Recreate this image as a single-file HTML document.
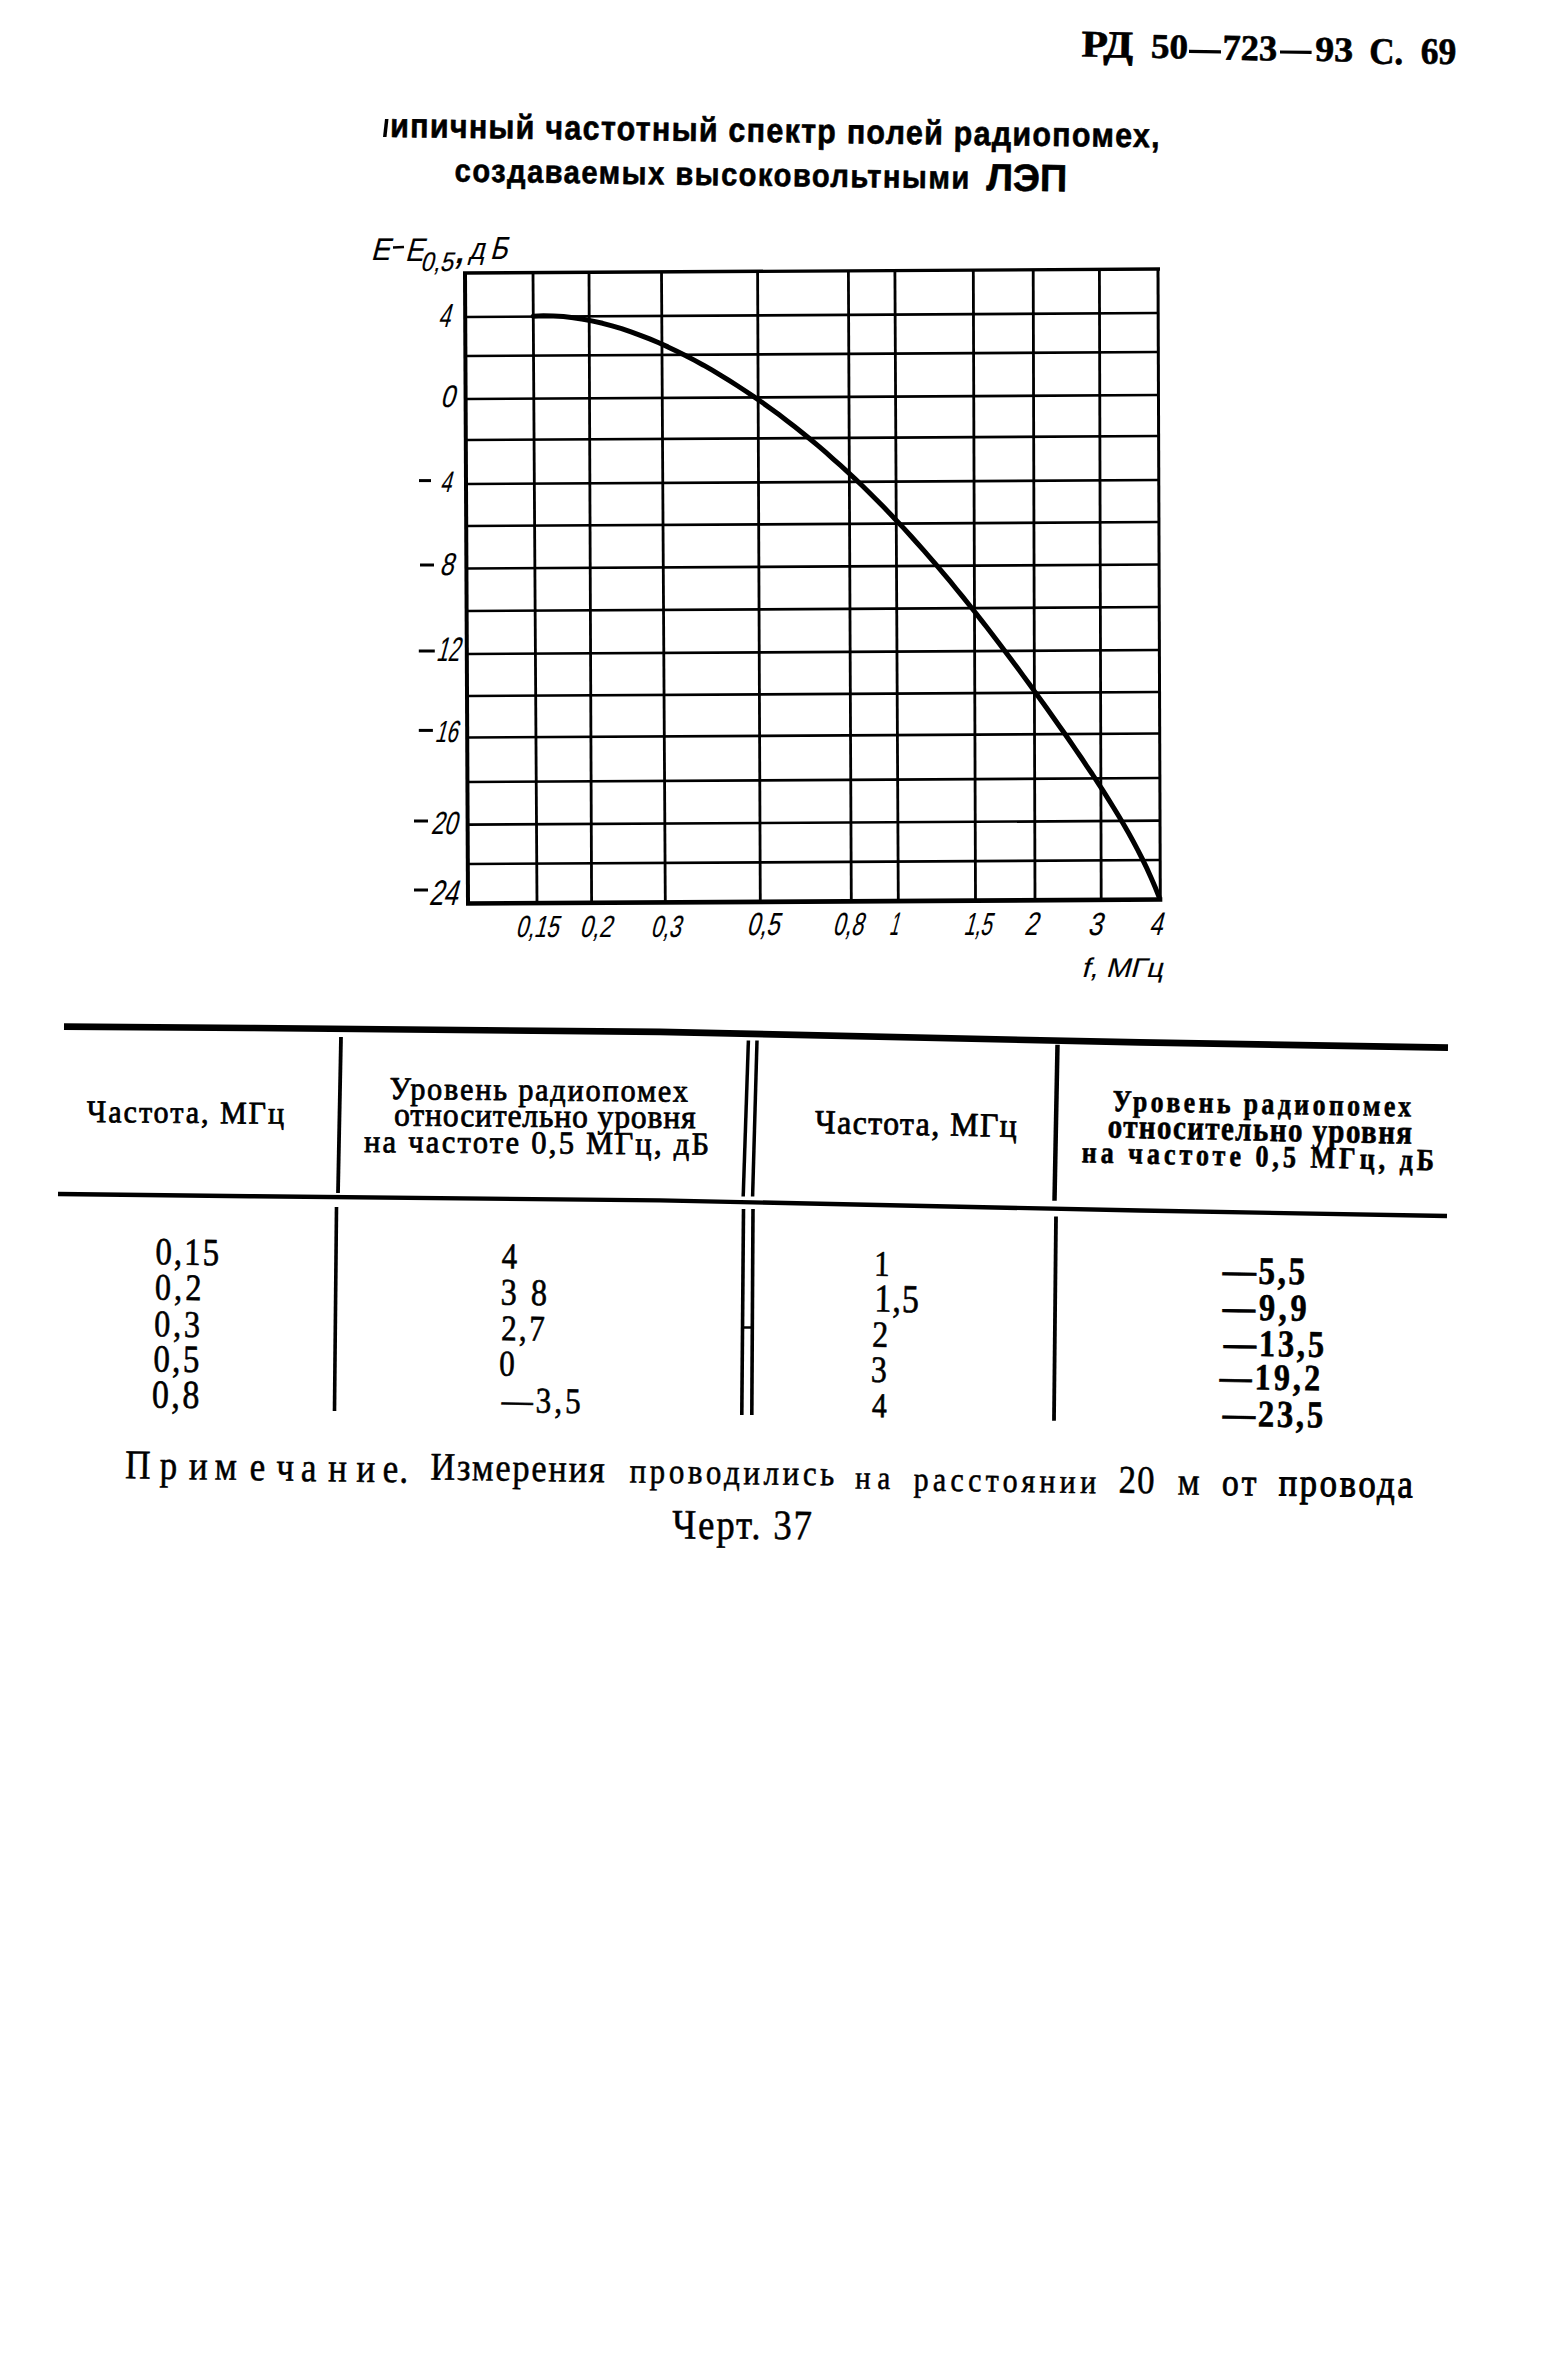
<!DOCTYPE html>
<html><head><meta charset="utf-8"><style>
html,body{margin:0;padding:0;background:#fff;width:1566px;height:2380px;overflow:hidden}
svg{display:block}
</style></head><body>
<svg width="1566" height="2380" viewBox="0 0 1566 2380"><g stroke="#000" stroke-linecap="butt" fill="none"><line x1="463.0" y1="273.0" x2="1160.0" y2="269.0" stroke-width="3.3"/><line x1="465.2" y1="317.0" x2="1158.1" y2="313.0" stroke-width="2.7"/><line x1="465.4" y1="356.0" x2="1158.3" y2="352.0" stroke-width="2.7"/><line x1="465.6" y1="399.0" x2="1158.4" y2="395.0" stroke-width="2.7"/><line x1="465.8" y1="440.0" x2="1158.6" y2="436.0" stroke-width="2.7"/><line x1="466.0" y1="484.0" x2="1158.8" y2="480.0" stroke-width="2.7"/><line x1="466.2" y1="526.0" x2="1158.9" y2="522.0" stroke-width="2.7"/><line x1="466.4" y1="568.5" x2="1159.1" y2="564.5" stroke-width="2.7"/><line x1="466.6" y1="611.0" x2="1159.2" y2="607.0" stroke-width="2.7"/><line x1="466.8" y1="654.0" x2="1159.4" y2="650.0" stroke-width="2.7"/><line x1="467.0" y1="696.0" x2="1159.5" y2="692.0" stroke-width="2.7"/><line x1="467.2" y1="737.5" x2="1159.7" y2="733.5" stroke-width="2.7"/><line x1="467.4" y1="782.0" x2="1159.8" y2="778.0" stroke-width="2.7"/><line x1="467.6" y1="824.7" x2="1160.0" y2="820.7" stroke-width="2.7"/><line x1="467.8" y1="864.0" x2="1160.1" y2="860.0" stroke-width="2.7"/><line x1="466.0" y1="903.5" x2="1162.3" y2="899.5" stroke-width="4.7"/><line x1="465.0" y1="273.0" x2="468.0" y2="903.5" stroke-width="4.0"/><line x1="533.0" y1="272.6" x2="537.0" y2="903.1" stroke-width="2.8"/><line x1="589.0" y1="272.3" x2="591.6" y2="902.8" stroke-width="2.8"/><line x1="661.5" y1="271.9" x2="665.3" y2="902.3" stroke-width="2.8"/><line x1="757.6" y1="271.3" x2="760.3" y2="901.8" stroke-width="2.8"/><line x1="848.4" y1="270.8" x2="851.3" y2="901.3" stroke-width="2.8"/><line x1="894.9" y1="270.5" x2="898.3" y2="901.0" stroke-width="2.8"/><line x1="973.3" y1="270.1" x2="975.5" y2="900.5" stroke-width="2.8"/><line x1="1033.2" y1="269.7" x2="1035.0" y2="900.2" stroke-width="2.8"/><line x1="1099.4" y1="269.3" x2="1101.2" y2="899.8" stroke-width="2.8"/><line x1="1158.0" y1="269.0" x2="1160.3" y2="899.5" stroke-width="3.0"/></g><polyline points="533.2,316.2 543.4,315.8 553.4,316.0 563.4,316.6 573.3,317.7 583.2,319.2 592.9,321.1 602.6,323.3 612.1,325.9 621.6,328.7 631.0,331.9 640.4,335.3 649.6,338.9 658.8,342.8 667.9,346.9 676.9,351.2 685.9,355.7 694.7,360.4 703.5,365.2 712.2,370.2 720.8,375.3 729.4,380.6 737.8,386.0 746.2,391.5 754.5,397.1 762.7,402.8 770.9,408.7 778.9,414.6 786.9,420.7 794.8,426.8 802.6,433.0 810.3,439.3 818.0,445.7 825.6,452.2 833.0,458.8 840.5,465.4 847.8,472.1 855.1,478.9 862.3,485.8 869.4,492.7 876.4,499.7 883.4,506.8 890.3,514.0 897.1,521.2 903.9,528.4 910.6,535.8 917.3,543.2 923.9,550.6 930.4,558.1 936.9,565.7 943.4,573.3 949.8,580.9 956.1,588.7 962.4,596.4 968.7,604.2 974.9,612.0 981.0,619.9 987.2,627.8 993.3,635.8 999.4,643.7 1005.4,651.7 1011.4,659.7 1017.4,667.8 1023.3,675.9 1029.3,684.0 1035.1,692.1 1041.0,700.2 1046.8,708.3 1052.6,716.5 1058.4,724.7 1064.1,732.8 1069.8,741.0 1075.5,749.3 1081.1,757.5 1086.6,765.8 1092.2,774.0 1097.6,782.3 1103.0,790.7 1108.3,799.1 1113.5,807.5 1118.7,816.0 1123.7,824.5 1128.6,833.1 1133.4,841.8 1138.1,850.6 1142.6,859.5 1147.0,868.6 1151.1,877.7 1155.1,887.1 1158.9,896.6" stroke="#000" stroke-width="5" fill="none" stroke-linecap="round" stroke-linejoin="round"/><g stroke="#000" stroke-linecap="butt" fill="none"><polyline points="64,1026.6 250,1028 660,1031.9 1140,1042.4 1448,1047.6" stroke-width="6.6" stroke-linejoin="round"/><polyline points="58,1194 250,1196.2 660,1200.4 1140,1210.5 1447,1216" stroke-width="4.4" stroke-linejoin="round"/><line x1="743" y1="1327.5" x2="753" y2="1327.5" stroke-width="2.5"/><line x1="341" y1="1037" x2="338" y2="1193" stroke-width="3.8"/><line x1="336.5" y1="1207" x2="334.5" y2="1411" stroke-width="3.6"/><line x1="748.4" y1="1040.5" x2="743.2" y2="1196.5" stroke-width="3.5"/><line x1="757" y1="1040.5" x2="752.6" y2="1196.5" stroke-width="3.5"/><line x1="743.5" y1="1209" x2="741.8" y2="1415" stroke-width="3.6"/><line x1="753" y1="1209" x2="751.8" y2="1415" stroke-width="3.6"/><line x1="1057.5" y1="1044.8" x2="1054.5" y2="1200.7" stroke-width="4.5"/><line x1="1056" y1="1216.4" x2="1054" y2="1420.7" stroke-width="3.8"/></g><g stroke="#000" stroke-width="3" stroke-linecap="butt"><line x1="419" y1="480.6" x2="431" y2="480.6"/><line x1="420" y1="565" x2="434" y2="565"/><line x1="418.8" y1="651" x2="434.8" y2="651"/><line x1="418.8" y1="730.4" x2="432.9" y2="730.4"/><line x1="414" y1="821" x2="428" y2="821"/><line x1="414" y1="890" x2="428" y2="890"/><line x1="393" y1="247.5" x2="404" y2="247" stroke-width="2.6"/></g><g stroke="#000" stroke-width="3.2"><line x1="1189" y1="51.3" x2="1221" y2="51.9"/><line x1="1280" y1="52.0" x2="1311.6" y2="52.4"/></g><path d="M385,119 L388.5,119 L386.5,137 L383,137 Z" fill="#000"/><g fill="#000"><text transform="translate(1081.32,56.50) rotate(1.15) scale(1.1478,1)" font-family="Liberation Serif" font-style="normal" font-weight="bold" font-size="37.79" stroke="#000" stroke-width="0.60" stroke-linejoin="round">РД</text><text transform="translate(1150.64,57.86) rotate(1.15) scale(1.0689,1)" font-family="Liberation Serif" font-style="normal" font-weight="bold" font-size="34.83" stroke="#000" stroke-width="0.60" stroke-linejoin="round">50</text><text transform="translate(1222.29,59.60) rotate(1.15) scale(1.0045,1)" font-family="Liberation Serif" font-style="normal" font-weight="bold" font-size="36.27" stroke="#000" stroke-width="0.60" stroke-linejoin="round">723</text><text transform="translate(1315.01,60.85) rotate(1.15) scale(1.0835,1)" font-family="Liberation Serif" font-style="normal" font-weight="bold" font-size="35.05" stroke="#000" stroke-width="0.60" stroke-linejoin="round">93</text><text transform="translate(1368.95,63.42) rotate(1.15) scale(0.9432,1)" font-family="Liberation Serif" font-style="normal" font-weight="bold" font-size="37.24" stroke="#000" stroke-width="0.60" stroke-linejoin="round">С.</text><text transform="translate(1420.38,63.42) rotate(1.15) scale(0.9596,1)" font-family="Liberation Serif" font-style="normal" font-weight="bold" font-size="37.24" stroke="#000" stroke-width="0.60" stroke-linejoin="round">69</text><text transform="translate(390.09,137.00) rotate(0.78) scale(0.9000,1)" font-family="Liberation Sans" font-style="normal" font-weight="bold" font-size="33.88" letter-spacing="1.39" stroke="#000" stroke-width="0.60" stroke-linejoin="round">ипичный частотный спектр полей радиопомех,</text><text transform="translate(454.49,181.60) rotate(0.8) scale(0.9000,1)" font-family="Liberation Sans" font-style="normal" font-weight="bold" font-size="32.38" letter-spacing="1.63" stroke="#000" stroke-width="0.60" stroke-linejoin="round">создаваемых высоковольтными</text><text transform="translate(986.20,190.30) rotate(0.8) scale(1.0000,1)" font-family="Liberation Sans" font-style="normal" font-weight="bold" font-size="37.97" letter-spacing="-0.04" stroke="#000" stroke-width="0.60" stroke-linejoin="round">ЛЭП</text><text transform="translate(437.67,326.50) skewX(-15.0) scale(0.6375,1)" font-family="Liberation Sans" font-style="normal" font-weight="normal" font-size="33.42" stroke="#000" stroke-width="0.15" stroke-linejoin="round">4</text><text transform="translate(439.90,406.62) skewX(-15.0) scale(0.8240,1)" font-family="Liberation Sans" font-style="normal" font-weight="normal" font-size="31.03" stroke="#000" stroke-width="0.15" stroke-linejoin="round">0</text><text transform="translate(439.69,491.80) skewX(-15.0) scale(0.6722,1)" font-family="Liberation Sans" font-style="normal" font-weight="normal" font-size="29.58" stroke="#000" stroke-width="0.15" stroke-linejoin="round">4</text><text transform="translate(439.22,575.11) skewX(-15.0) scale(0.7894,1)" font-family="Liberation Sans" font-style="normal" font-weight="normal" font-size="31.44" stroke="#000" stroke-width="0.15" stroke-linejoin="round">8</text><text transform="translate(435.70,661.00) skewX(-15.0) scale(0.6115,1)" font-family="Liberation Sans" font-style="normal" font-weight="normal" font-size="34.13" stroke="#000" stroke-width="0.15" stroke-linejoin="round">12</text><text transform="translate(434.54,742.42) skewX(-15.0) scale(0.6601,1)" font-family="Liberation Sans" font-style="normal" font-weight="normal" font-size="30.61" stroke="#000" stroke-width="0.15" stroke-linejoin="round">16</text><text transform="translate(430.51,834.10) skewX(-15.0) scale(0.7298,1)" font-family="Liberation Sans" font-style="normal" font-weight="normal" font-size="32.00" stroke="#000" stroke-width="0.15" stroke-linejoin="round">20</text><text transform="translate(428.49,904.50) skewX(-15.0) scale(0.7261,1)" font-family="Liberation Sans" font-style="normal" font-weight="normal" font-size="35.41" stroke="#000" stroke-width="0.15" stroke-linejoin="round">24</text><text transform="translate(515.32,936.52) skewX(-15.0) scale(0.7127,1)" font-family="Liberation Sans" font-style="normal" font-weight="normal" font-size="30.61" stroke="#000" stroke-width="0.15" stroke-linejoin="round">0,15</text><text transform="translate(579.28,936.52) skewX(-15.0) scale(0.7502,1)" font-family="Liberation Sans" font-style="normal" font-weight="normal" font-size="30.61" stroke="#000" stroke-width="0.15" stroke-linejoin="round">0,2</text><text transform="translate(650.33,936.52) skewX(-15.0) scale(0.7047,1)" font-family="Liberation Sans" font-style="normal" font-weight="normal" font-size="30.61" stroke="#000" stroke-width="0.15" stroke-linejoin="round">0,3</text><text transform="translate(746.27,934.50) skewX(-15.0) scale(0.7342,1)" font-family="Liberation Sans" font-style="normal" font-weight="normal" font-size="32.00" stroke="#000" stroke-width="0.15" stroke-linejoin="round">0,5</text><text transform="translate(832.32,934.50) skewX(-15.0) scale(0.6782,1)" font-family="Liberation Sans" font-style="normal" font-weight="normal" font-size="32.00" stroke="#000" stroke-width="0.15" stroke-linejoin="round">0,8</text><text transform="translate(888.68,935.00) skewX(-15.0) scale(0.5004,1)" font-family="Liberation Sans" font-style="normal" font-weight="normal" font-size="32.71" stroke="#000" stroke-width="0.15" stroke-linejoin="round">1</text><text transform="translate(963.15,934.50) skewX(-15.0) scale(0.6269,1)" font-family="Liberation Sans" font-style="normal" font-weight="normal" font-size="32.00" stroke="#000" stroke-width="0.15" stroke-linejoin="round">1,5</text><text transform="translate(1023.86,935.00) skewX(-15.0) scale(0.7443,1)" font-family="Liberation Sans" font-style="normal" font-weight="normal" font-size="32.71" stroke="#000" stroke-width="0.15" stroke-linejoin="round">2</text><text transform="translate(1087.18,934.50) skewX(-15.0) scale(0.8175,1)" font-family="Liberation Sans" font-style="normal" font-weight="normal" font-size="32.00" stroke="#000" stroke-width="0.15" stroke-linejoin="round">3</text><text transform="translate(1148.63,935.00) skewX(-15.0) scale(0.7208,1)" font-family="Liberation Sans" font-style="normal" font-weight="normal" font-size="32.71" stroke="#000" stroke-width="0.15" stroke-linejoin="round">4</text><text transform="translate(1081.00,977.00) skewX(-15.0) scale(1.0850,1)" font-family="Liberation Sans" font-style="normal" font-weight="normal" font-size="27.02" stroke="#000" stroke-width="0.15" stroke-linejoin="round">f, МГц</text><text transform="translate(370.58,260.10) skewX(-15.0) scale(0.9126,1)" font-family="Liberation Sans" font-style="normal" font-weight="normal" font-size="31.15" stroke="#000" stroke-width="0.15" stroke-linejoin="round">E</text><text transform="translate(404.87,261.00) skewX(-15.0) scale(0.8315,1)" font-family="Liberation Sans" font-style="normal" font-weight="normal" font-size="32.71" stroke="#000" stroke-width="0.15" stroke-linejoin="round">E</text><text transform="translate(420.07,270.98) skewX(-15.0) scale(0.8655,1)" font-family="Liberation Sans" font-style="normal" font-weight="normal" font-size="26.99" stroke="#000" stroke-width="0.15" stroke-linejoin="round">0,5</text><text transform="translate(452.46,262.50) skewX(-15.0) scale(1.0126,1)" font-family="Liberation Sans" font-style="normal" font-weight="normal" font-size="44.80" stroke="#000" stroke-width="0.15" stroke-linejoin="round">,</text><text transform="translate(468.80,259.00) skewX(-15.0) scale(0.8710,1)" font-family="Liberation Sans" font-style="normal" font-weight="normal" font-size="30.12" stroke="#000" stroke-width="0.15" stroke-linejoin="round">д</text><text transform="translate(489.75,259.10) skewX(-15.0) scale(0.8207,1)" font-family="Liberation Sans" font-style="normal" font-weight="normal" font-size="32.00" stroke="#000" stroke-width="0.15" stroke-linejoin="round">Б</text><text transform="translate(86.80,1122.00) rotate(0.5) scale(0.9500,1)" font-family="Liberation Serif" font-style="normal" font-weight="normal" font-size="31.54" letter-spacing="2.12" stroke="#000" stroke-width="0.80" stroke-linejoin="round">Частота, МГц</text><text transform="translate(389.56,1099.10) rotate(0.5) scale(0.9500,1)" font-family="Liberation Serif" font-style="normal" font-weight="normal" font-size="31.79" letter-spacing="1.94" stroke="#000" stroke-width="0.80" stroke-linejoin="round">Уровень радиопомех</text><text transform="translate(394.01,1125.60) rotate(0.5) scale(0.9500,1)" font-family="Liberation Serif" font-style="normal" font-weight="normal" font-size="33.28" letter-spacing="0.91" stroke="#000" stroke-width="0.80" stroke-linejoin="round">относительно уровня</text><text transform="translate(363.92,1152.00) rotate(0.45) scale(0.9500,1)" font-family="Liberation Serif" font-style="normal" font-weight="normal" font-size="32.00" letter-spacing="2.45" stroke="#000" stroke-width="0.80" stroke-linejoin="round">на частоте 0,5 МГц, дБ</text><text transform="translate(814.80,1133.00) rotate(1.1) scale(0.9500,1)" font-family="Liberation Serif" font-style="normal" font-weight="normal" font-size="33.52" letter-spacing="1.50" stroke="#000" stroke-width="0.80" stroke-linejoin="round">Частота, МГц</text><text transform="translate(1112.59,1111.00) rotate(1.05) scale(0.8500,1)" font-family="Liberation Serif" font-style="normal" font-weight="bold" font-size="30.51" letter-spacing="3.94" stroke="#000" stroke-width="0.60" stroke-linejoin="round">Уровень радиопомех</text><text transform="translate(1107.39,1137.50) rotate(1.2) scale(0.8500,1)" font-family="Liberation Serif" font-style="normal" font-weight="bold" font-size="34.35" letter-spacing="1.57" stroke="#000" stroke-width="0.60" stroke-linejoin="round">относительно уровня</text><text transform="translate(1081.49,1162.20) rotate(1.35) scale(0.8500,1)" font-family="Liberation Serif" font-style="normal" font-weight="bold" font-size="30.72" letter-spacing="4.67" stroke="#000" stroke-width="0.60" stroke-linejoin="round">на частоте 0,5 МГц, дБ</text><text transform="translate(155.37,1264.20) rotate(0.87) scale(0.8600,1)" font-family="Liberation Serif" font-style="normal" font-weight="normal" font-size="38.40" letter-spacing="2.31" stroke="#000" stroke-width="0.60" stroke-linejoin="round">0,15</text><text transform="translate(154.70,1299.42) rotate(0.87) scale(0.8600,1)" font-family="Liberation Serif" font-style="normal" font-weight="normal" font-size="37.38" letter-spacing="3.74" stroke="#000" stroke-width="0.60" stroke-linejoin="round">0,2</text><text transform="translate(153.99,1336.21) rotate(0.87) scale(0.8600,1)" font-family="Liberation Serif" font-style="normal" font-weight="normal" font-size="37.53" letter-spacing="3.30" stroke="#000" stroke-width="0.60" stroke-linejoin="round">0,3</text><text transform="translate(153.17,1371.40) rotate(0.87) scale(0.8600,1)" font-family="Liberation Serif" font-style="normal" font-weight="normal" font-size="38.40" letter-spacing="2.84" stroke="#000" stroke-width="0.60" stroke-linejoin="round">0,5</text><text transform="translate(151.74,1407.38) rotate(0.87) scale(0.8600,1)" font-family="Liberation Serif" font-style="normal" font-weight="normal" font-size="39.56" letter-spacing="2.96" stroke="#000" stroke-width="0.60" stroke-linejoin="round">0,8</text><text transform="translate(501.51,1268.33) rotate(0.87) scale(0.8600,1)" font-family="Liberation Serif" font-style="normal" font-weight="normal" font-size="36.22" letter-spacing="3.14" stroke="#000" stroke-width="0.60" stroke-linejoin="round">4</text><text transform="translate(500.49,1304.61) rotate(0.87) scale(0.8600,1)" font-family="Liberation Serif" font-style="normal" font-weight="normal" font-size="37.53" letter-spacing="3.59" stroke="#000" stroke-width="0.60" stroke-linejoin="round">3 8</text><text transform="translate(501.03,1340.13) rotate(0.87) scale(0.8600,1)" font-family="Liberation Serif" font-style="normal" font-weight="normal" font-size="36.22" letter-spacing="2.63" stroke="#000" stroke-width="0.60" stroke-linejoin="round">2,7</text><text transform="translate(499.02,1375.43) rotate(0.87) scale(0.8600,1)" font-family="Liberation Serif" font-style="normal" font-weight="normal" font-size="36.36" letter-spacing="4.32" stroke="#000" stroke-width="0.60" stroke-linejoin="round">0</text><text transform="translate(501.49,1411.93) rotate(0.87) scale(0.8600,1)" font-family="Liberation Serif" font-style="normal" font-weight="normal" font-size="36.22" letter-spacing="3.49" stroke="#000" stroke-width="0.60" stroke-linejoin="round">—3,5</text><text transform="translate(873.88,1275.74) rotate(0.87) scale(0.8600,1)" font-family="Liberation Serif" font-style="normal" font-weight="normal" font-size="36.07" letter-spacing="-2.25" stroke="#000" stroke-width="0.60" stroke-linejoin="round">1</text><text transform="translate(874.34,1311.58) rotate(0.87) scale(0.8600,1)" font-family="Liberation Serif" font-style="normal" font-weight="normal" font-size="39.56" letter-spacing="1.16" stroke="#000" stroke-width="0.60" stroke-linejoin="round">1,5</text><text transform="translate(872.00,1346.72) rotate(0.87) scale(0.8600,1)" font-family="Liberation Serif" font-style="normal" font-weight="normal" font-size="37.24" letter-spacing="4.06" stroke="#000" stroke-width="0.60" stroke-linejoin="round">2</text><text transform="translate(870.80,1381.82) rotate(0.87) scale(0.8600,1)" font-family="Liberation Serif" font-style="normal" font-weight="normal" font-size="37.09" letter-spacing="3.77" stroke="#000" stroke-width="0.60" stroke-linejoin="round">3</text><text transform="translate(871.83,1416.96) rotate(0.87) scale(0.8600,1)" font-family="Liberation Serif" font-style="normal" font-weight="normal" font-size="34.76" letter-spacing="3.12" stroke="#000" stroke-width="0.60" stroke-linejoin="round">4</text><text transform="translate(1222.52,1283.09) rotate(0.87) scale(0.8600,1)" font-family="Liberation Serif" font-style="normal" font-weight="bold" font-size="38.84" letter-spacing="2.86" stroke="#000" stroke-width="0.60" stroke-linejoin="round">—5,5</text><text transform="translate(1222.51,1319.41) rotate(0.87) scale(0.8600,1)" font-family="Liberation Serif" font-style="normal" font-weight="bold" font-size="37.82" letter-spacing="4.24" stroke="#000" stroke-width="0.60" stroke-linejoin="round">—9,9</text><text transform="translate(1223.51,1355.41) rotate(0.87) scale(0.8600,1)" font-family="Liberation Serif" font-style="normal" font-weight="bold" font-size="37.82" letter-spacing="3.22" stroke="#000" stroke-width="0.60" stroke-linejoin="round">—13,5</text><text transform="translate(1219.50,1389.02) rotate(0.87) scale(0.8600,1)" font-family="Liberation Serif" font-style="normal" font-weight="bold" font-size="37.24" letter-spacing="3.62" stroke="#000" stroke-width="0.60" stroke-linejoin="round">—19,2</text><text transform="translate(1222.51,1425.91) rotate(0.87) scale(0.8600,1)" font-family="Liberation Serif" font-style="normal" font-weight="bold" font-size="37.96" letter-spacing="3.12" stroke="#000" stroke-width="0.60" stroke-linejoin="round">—23,5</text><text transform="translate(430.16,1479.60) rotate(0.85) scale(0.8800,1)" font-family="Liberation Serif" font-style="normal" font-weight="normal" font-size="39.01" letter-spacing="2.08" stroke="#000" stroke-width="0.55" stroke-linejoin="round">Измерения</text><text transform="translate(629.42,1482.50) rotate(0.85) scale(0.8800,1)" font-family="Liberation Serif" font-style="normal" font-weight="normal" font-size="35.20" letter-spacing="4.09" stroke="#000" stroke-width="0.55" stroke-linejoin="round">проводились</text><text transform="translate(854.95,1488.40) rotate(0.85) scale(0.8800,1)" font-family="Liberation Serif" font-style="normal" font-weight="normal" font-size="32.85" letter-spacing="7.65" stroke="#000" stroke-width="0.55" stroke-linejoin="round">на</text><text transform="translate(913.53,1490.50) rotate(0.85) scale(0.8800,1)" font-family="Liberation Serif" font-style="normal" font-weight="normal" font-size="34.13" letter-spacing="4.84" stroke="#000" stroke-width="0.55" stroke-linejoin="round">расстоянии</text><text transform="translate(1118.42,1492.78) rotate(0.85) scale(0.8800,1)" font-family="Liberation Serif" font-style="normal" font-weight="normal" font-size="39.42" letter-spacing="1.34" stroke="#000" stroke-width="0.55" stroke-linejoin="round">20</text><text transform="translate(1177.46,1494.50) rotate(0.85) scale(0.8800,1)" font-family="Liberation Serif" font-style="normal" font-weight="normal" font-size="39.47" letter-spacing="0.20" stroke="#000" stroke-width="0.55" stroke-linejoin="round">м</text><text transform="translate(1221.64,1495.00) rotate(0.85) scale(0.8800,1)" font-family="Liberation Serif" font-style="normal" font-weight="normal" font-size="38.40" letter-spacing="3.89" stroke="#000" stroke-width="0.80" stroke-linejoin="round">от</text><text transform="translate(1278.46,1495.50) rotate(0.85) scale(0.8800,1)" font-family="Liberation Serif" font-style="normal" font-weight="normal" font-size="39.47" letter-spacing="2.92" stroke="#000" stroke-width="1.00" stroke-linejoin="round">провода</text><text transform="translate(672.30,1538.50) rotate(0.3) scale(0.8800,1)" font-family="Liberation Serif" font-style="normal" font-weight="normal" font-size="41.90" letter-spacing="2.07" stroke="#000" stroke-width="0.55" stroke-linejoin="round">Черт. 37</text><text transform="translate(124.95,1478.30) rotate(0.85) scale(0.86,1)" font-family="Liberation Serif" font-size="40.84" stroke="#000" stroke-width="0.55">П</text><text transform="translate(159.45,1478.81) rotate(0.85) scale(0.86,1)" font-family="Liberation Serif" font-size="40.84" stroke="#000" stroke-width="0.55">р</text><text transform="translate(188.85,1479.25) rotate(0.85) scale(0.86,1)" font-family="Liberation Serif" font-size="40.84" stroke="#000" stroke-width="0.55">и</text><text transform="translate(214.45,1479.62) rotate(0.85) scale(0.86,1)" font-family="Liberation Serif" font-size="40.84" stroke="#000" stroke-width="0.55">м</text><text transform="translate(249.60,1480.15) rotate(0.85) scale(0.86,1)" font-family="Liberation Serif" font-size="40.84" stroke="#000" stroke-width="0.55">е</text><text transform="translate(276.20,1480.53) rotate(0.85) scale(0.86,1)" font-family="Liberation Serif" font-size="40.84" stroke="#000" stroke-width="0.55">ч</text><text transform="translate(300.70,1480.91) rotate(0.85) scale(0.86,1)" font-family="Liberation Serif" font-size="40.84" stroke="#000" stroke-width="0.55">а</text><text transform="translate(328.05,1481.31) rotate(0.85) scale(0.86,1)" font-family="Liberation Serif" font-size="40.84" stroke="#000" stroke-width="0.55">н</text><text transform="translate(356.15,1481.72) rotate(0.85) scale(0.86,1)" font-family="Liberation Serif" font-size="40.84" stroke="#000" stroke-width="0.55">и</text><text transform="translate(382.40,1482.12) rotate(0.85) scale(0.86,1)" font-family="Liberation Serif" font-size="40.84" stroke="#000" stroke-width="0.55">е</text><text transform="translate(399.20,1482.38) rotate(0.85) scale(0.86,1)" font-family="Liberation Serif" font-size="40.84" stroke="#000" stroke-width="0.55">.</text></g></svg>
</body></html>
